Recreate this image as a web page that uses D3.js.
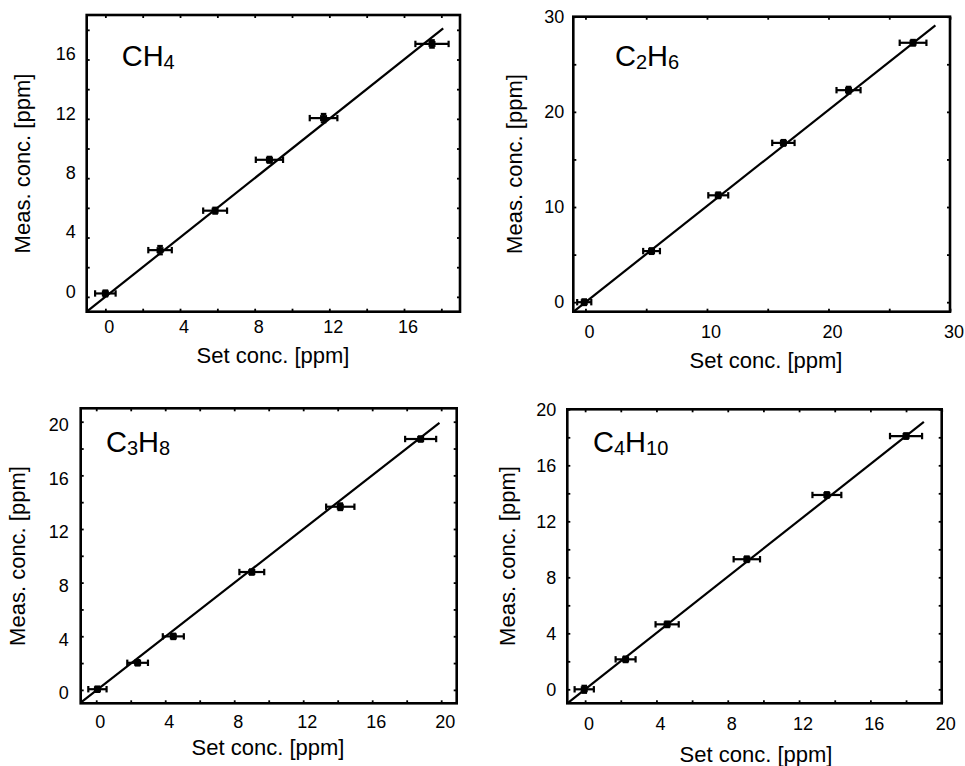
<!DOCTYPE html>
<html><head><meta charset="utf-8">
<script src="https://cdn.jsdelivr.net/npm/d3@7"></script>
<style>
body{margin:0;background:#fff}
svg{display:block}
text{font-family:"Liberation Sans",Arial,Helvetica,sans-serif;fill:#000}
</style>
</head><body>
<svg id="c" width="965" height="766"></svg>
<script>
// ---------- DATA ----------
const ch4Set     = [0.0, 2.93, 5.88, 8.79, 11.69, 17.5];
const ch4Meas    = [0.23, 3.15, 5.81, 9.24, 12.05, 17.05];
const ch4SetErr  = [0.55, 0.63, 0.64, 0.73, 0.74, 0.89];
const ch4MeasErr = [0.2, 0.28, 0.2, 0.2, 0.28, 0.25];
const ch4Fit     = [1.0, 0.0];      // slope, intercept
const ch4FitX    = [-1, 18.1];
const ch4Ticks   = [0, 2, 4, 6, 8, 10, 12, 14, 16, 18];
const ch4Labels  = [0, 4, 8, 12, 16];
const ch4Domain  = [-1, 19];

const c2h6Set     = [-0.1, 5.44, 10.93, 16.29, 21.65, 26.96];
const c2h6Meas    = [0.0, 5.37, 11.23, 16.74, 22.28, 27.26];
const c2h6SetErr  = [0.58, 0.69, 0.82, 0.92, 0.99, 1.1];
const c2h6MeasErr = [0.3, 0.3, 0.3, 0.3, 0.35, 0.3];
const c2h6Fit     = [1.01, 0.0];
const c2h6FitX    = [-1, 28.8];
const c2h6Ticks   = [0, 5, 10, 15, 20, 25, 30];
const c2h6Labels  = [0, 10, 20, 30];
const c2h6Domain  = [-1, 30];

const c3h8Set     = [0.07, 2.4, 4.47, 9.02, 14.15, 18.81];
const c3h8Meas    = [0.05, 2.02, 3.99, 8.79, 13.66, 18.71];
const c3h8SetErr  = [0.53, 0.6, 0.61, 0.72, 0.82, 0.9];
const c3h8MeasErr = [0.2, 0.2, 0.2, 0.2, 0.25, 0.2];
const c3h8Fit     = [1.003, -0.05];
const c3h8FitX    = [-0.9, 19.9];
const c3h8Ticks   = [0, 2, 4, 6, 8, 10, 12, 14, 16, 18, 20];
const c3h8Labels  = [0, 4, 8, 12, 16, 20];
const c3h8XDomain = [-0.9, 20.9];
const c3h8YDomain = [-1, 21];

const c4h10Set     = [-0.05, 2.27, 4.6, 9.07, 13.56, 18.0];
const c4h10Meas    = [0.0, 2.14, 4.64, 9.29, 13.88, 18.09];
const c4h10SetErr  = [0.54, 0.56, 0.65, 0.74, 0.81, 0.9];
const c4h10MeasErr = [0.25, 0.2, 0.2, 0.2, 0.2, 0.2];
const c4h10Fit     = [1.005, 0.0];
const c4h10FitX    = [-1, 19.0];
const c4h10Ticks   = [0, 2, 4, 6, 8, 10, 12, 14, 16, 18, 20];
const c4h10Labels  = [0, 4, 8, 12, 16, 20];
const c4h10Domain  = [-1, 20];

const xTitle = "Set conc. [ppm]";
const yTitle = "Meas. conc. [ppm]";

// ---------- PANELS (data + layout) ----------
const panels = [
  {formula:["CH","4"], set:ch4Set, meas:ch4Meas, sErr:ch4SetErr, mErr:ch4MeasErr, fit:ch4Fit, fitX:ch4FitX,
   ticks:ch4Ticks, labels:ch4Labels, xd:ch4Domain, yd:ch4Domain,
   l:86.7, r:460, t:15, b:311.7, xlabDx:4, xlabY:21.5, ylabGap:11, ylabDy:-5.5,
   xtX:273, xtY:363, ytX:29.5, ytY:163.5, fx:121.7, fy:66},
  {formula:["C","2","H","6"], set:c2h6Set, meas:c2h6Meas, sErr:c2h6SetErr, mErr:c2h6MeasErr, fit:c2h6Fit, fitX:c2h6FitX,
   ticks:c2h6Ticks, labels:c2h6Labels, xd:c2h6Domain, yd:c2h6Domain,
   l:573.3, r:950, t:16.7, b:311.7, xlabDx:4, xlabY:26.5, ylabGap:9, ylabDy:0,
   xtX:766, xtY:368, ytX:522, ytY:164, fx:615, fy:66},
  {formula:["C","3","H","8"], set:c3h8Set, meas:c3h8Meas, sErr:c3h8SetErr, mErr:c3h8MeasErr, fit:c3h8Fit, fitX:c3h8FitX,
   ticks:c3h8Ticks, labels:c3h8Labels, xd:c3h8XDomain, yd:c3h8YDomain,
   l:80.7, r:456.7, t:408.3, b:703.3, xlabDx:4, xlabY:25, ylabGap:12, ylabDy:3,
   xtX:268, xtY:755, ytX:25, ytY:556, fx:106, fy:452},
  {formula:["C","4","H","10"], set:c4h10Set, meas:c4h10Meas, sErr:c4h10SetErr, mErr:c4h10MeasErr, fit:c4h10Fit, fitX:c4h10FitX,
   ticks:c4h10Ticks, labels:c4h10Labels, xd:c4h10Domain, yd:c4h10Domain,
   l:567.3, r:941.7, t:409.3, b:703.3, xlabDx:4, xlabY:27, ylabGap:11, ylabDy:0,
   xtX:756, xtY:762, ytX:515, ytY:556, fx:593, fy:452}
];

const svg = d3.select("#c");
const TICK = 3;

panels.forEach(p => {
  const x = d3.scaleLinear().domain(p.xd).range([p.l, p.r]);
  const y = d3.scaleLinear().domain(p.yd).range([p.b, p.t]);
  const g = svg.append("g");

  // ticks on all four sides (inward)
  const noLab = () => "";
  const mk = (axis, tr) => {
    const a = g.append("g").attr("transform", tr).call(axis);
    a.select(".domain").remove();
    a.selectAll(".tick line").attr("stroke", "#000").attr("stroke-width", 1.8);
    a.selectAll(".tick text").remove();
    return a;
  };
  mk(d3.axisBottom(x).tickValues(p.ticks).tickSize(-TICK).tickFormat(noLab), `translate(0,${p.b})`);
  mk(d3.axisTop(x).tickValues(p.ticks).tickSize(-TICK).tickFormat(noLab), `translate(0,${p.t})`);
  mk(d3.axisLeft(y).tickValues(p.ticks).tickSize(-TICK).tickFormat(noLab), `translate(${p.l},0)`);
  mk(d3.axisRight(y).tickValues(p.ticks).tickSize(-TICK).tickFormat(noLab), `translate(${p.r},0)`);

  // tick labels
  g.append("g").selectAll("text").data(p.labels).join("text")
    .attr("x", d => x(d) + p.xlabDx).attr("y", p.b + p.xlabY)
    .attr("text-anchor", "middle").style("font-size", "18px").text(d => d);
  g.append("g").selectAll("text").data(p.labels).join("text")
    .attr("x", p.l - p.ylabGap).attr("y", d => y(d) + p.ylabDy).attr("dy", "0.35em")
    .attr("text-anchor", "end").style("font-size", "18px").text(d => d);

  // fit line
  const line = d3.line().x(d => x(d)).y(d => y(p.fit[0] * d + p.fit[1]));
  g.append("path").datum(p.fitX).attr("d", line)
    .attr("fill", "none").attr("stroke", "#000").attr("stroke-width", 2.2);

  // data with error bars
  const pts = p.set.map((s, i) => ({s, m: p.meas[i], se: p.sErr[i], me: p.mErr[i]}));
  const eg = g.append("g").attr("stroke", "#000").attr("stroke-width", 2.2).attr("fill", "none");
  pts.forEach(d => {
    const cx = x(d.s), cy = y(d.m);
    const x0 = x(d.s - d.se), x1 = x(d.s + d.se);
    const y0 = y(d.m - d.me), y1 = y(d.m + d.me);
    eg.append("line").attr("x1", x0).attr("x2", x1).attr("y1", cy).attr("y2", cy);
    eg.append("line").attr("x1", x0).attr("x2", x0).attr("y1", cy - 3.2).attr("y2", cy + 3.2);
    eg.append("line").attr("x1", x1).attr("x2", x1).attr("y1", cy - 3.2).attr("y2", cy + 3.2);
    eg.append("line").attr("x1", cx).attr("x2", cx).attr("y1", y0).attr("y2", y1);
    eg.append("line").attr("x1", cx - 2.8).attr("x2", cx + 2.8).attr("y1", y0).attr("y2", y0);
    eg.append("line").attr("x1", cx - 2.8).attr("x2", cx + 2.8).attr("y1", y1).attr("y2", y1);
  });
  g.append("g").selectAll("rect").data(pts).join("rect")
    .attr("x", d => x(d.s) - 3.5).attr("y", d => y(d.m) - 3)
    .attr("width", 7).attr("height", 6).attr("fill", "#000");

  // frame
  g.append("rect").attr("x", p.l).attr("y", p.t)
    .attr("width", p.r - p.l).attr("height", p.b - p.t)
    .attr("fill", "none").attr("stroke", "#000").attr("stroke-width", 2.6);

  // axis titles
  g.append("text").attr("x", p.xtX).attr("y", p.xtY).attr("text-anchor", "middle")
    .style("font-size", "22px").text(xTitle);
  g.append("text").attr("transform", `translate(${p.ytX},${p.ytY}) rotate(-90)`)
    .attr("text-anchor", "middle").style("font-size", "22px").text(yTitle);

  // formula label
  const ft = g.append("text").attr("x", p.fx).attr("y", p.fy).style("font-size", "29px");
  p.formula.forEach((seg, i) => {
    const sub = i % 2 === 1;
    const ts = ft.append("tspan").text(seg);
    if (sub) ts.style("font-size", "20px").attr("dy", 3);
    else if (i > 0) ts.attr("dy", -3);
  });
});
</script>
</body></html>
